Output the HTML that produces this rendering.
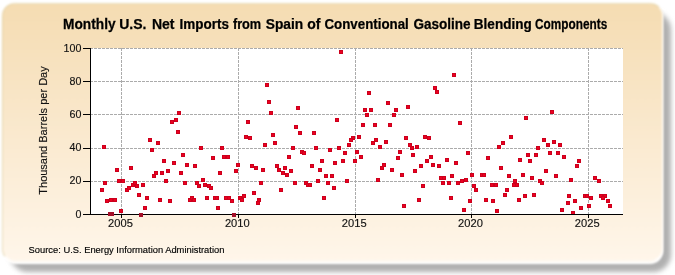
<!DOCTYPE html>
<html><head><meta charset="utf-8"><style>
html,body{margin:0;padding:0;background:#fff;width:675px;height:275px;overflow:hidden;}
.panel{position:absolute;left:2.2px;top:2.9px;width:659px;height:255.8px;border:1px solid rgba(215,200,150,0.55);border-right-color:rgba(255,255,255,0.7);border-bottom:2px solid rgba(255,255,255,0.8);background-clip:padding-box;border-radius:13px;background:linear-gradient(to bottom,#F5DCB2,#FFF6EA);filter:blur(0.9px);}
.rim{position:absolute;left:2px;top:3px;width:660.5px;height:261px;border-radius:13px;background:#fff;filter:blur(1.2px);}
.shadow{position:absolute;left:10px;top:11.5px;width:660.5px;height:260px;border-radius:18px;background:#b0b0b0;filter:blur(2.8px);}
svg{position:absolute;left:0;top:0;will-change:transform;}
text{font-family:"Liberation Sans",sans-serif;fill:#111;}
.t{font-size:11.5px;stroke:#111;stroke-width:0.15px;}
.yt{font-size:11px;stroke:#111;stroke-width:0.15px;}
.ttl{font-size:14px;font-weight:bold;fill:#000;stroke:#000;stroke-width:0.25px;}
.src{font-size:9.35px;fill:#000;stroke:#000;stroke-width:0.15px;}
</style></head><body>
<div class="shadow"></div><div class="rim"></div><div class="panel"></div>
<svg shape-rendering="crispEdges" width="675" height="275" viewBox="0 0 675 275">
<rect x="90" y="48" width="533" height="166" fill="#fff"/>
<line x1="90" y1="181.5" x2="623" y2="181.5" stroke="#ababab" stroke-width="1" stroke-dasharray="3,1"/>
<line x1="90" y1="148.5" x2="623" y2="148.5" stroke="#ababab" stroke-width="1" stroke-dasharray="3,1"/>
<line x1="90" y1="114.5" x2="623" y2="114.5" stroke="#ababab" stroke-width="1" stroke-dasharray="3,1"/>
<line x1="90" y1="81.5" x2="623" y2="81.5" stroke="#ababab" stroke-width="1" stroke-dasharray="3,1"/>
<line x1="90" y1="48.5" x2="623" y2="48.5" stroke="#ababab" stroke-width="1" stroke-dasharray="3,1"/>
<line x1="121.5" y1="48" x2="121.5" y2="214" stroke="#ababab" stroke-width="1" stroke-dasharray="3,1"/>
<line x1="238.5" y1="48" x2="238.5" y2="214" stroke="#ababab" stroke-width="1" stroke-dasharray="3,1"/>
<line x1="355.5" y1="48" x2="355.5" y2="214" stroke="#ababab" stroke-width="1" stroke-dasharray="3,1"/>
<line x1="471.5" y1="48" x2="471.5" y2="214" stroke="#ababab" stroke-width="1" stroke-dasharray="3,1"/>
<line x1="588.5" y1="48" x2="588.5" y2="214" stroke="#ababab" stroke-width="1" stroke-dasharray="3,1"/>
<rect x="148" y="138" width="4" height="4" fill="#cc001c"/><rect x="149" y="139" width="2" height="2" fill="#ec0020"/>
<rect x="156" y="141" width="4" height="4" fill="#cc001c"/><rect x="157" y="142" width="2" height="2" fill="#ec0020"/>
<rect x="102" y="145" width="4" height="4" fill="#cc001c"/><rect x="103" y="146" width="2" height="2" fill="#ec0020"/>
<rect x="150" y="148" width="4" height="4" fill="#cc001c"/><rect x="151" y="149" width="2" height="2" fill="#ec0020"/>
<rect x="162" y="159" width="4" height="4" fill="#cc001c"/><rect x="163" y="160" width="2" height="2" fill="#ec0020"/>
<rect x="129" y="166" width="4" height="4" fill="#cc001c"/><rect x="130" y="167" width="2" height="2" fill="#ec0020"/>
<rect x="115" y="168" width="4" height="4" fill="#cc001c"/><rect x="116" y="169" width="2" height="2" fill="#ec0020"/>
<rect x="166" y="169" width="4" height="4" fill="#cc001c"/><rect x="167" y="170" width="2" height="2" fill="#ec0020"/>
<rect x="154" y="171" width="4" height="4" fill="#cc001c"/><rect x="155" y="172" width="2" height="2" fill="#ec0020"/>
<rect x="160" y="171" width="4" height="4" fill="#cc001c"/><rect x="161" y="172" width="2" height="2" fill="#ec0020"/>
<rect x="152" y="174" width="4" height="4" fill="#cc001c"/><rect x="153" y="175" width="2" height="2" fill="#ec0020"/>
<rect x="103" y="181" width="4" height="4" fill="#cc001c"/><rect x="104" y="182" width="2" height="2" fill="#ec0020"/>
<rect x="100" y="188" width="4" height="4" fill="#cc001c"/><rect x="101" y="189" width="2" height="2" fill="#ec0020"/>
<rect x="105" y="199" width="4" height="4" fill="#cc001c"/><rect x="106" y="200" width="2" height="2" fill="#ec0020"/>
<rect x="109" y="198" width="4" height="4" fill="#cc001c"/><rect x="110" y="199" width="2" height="2" fill="#ec0020"/>
<rect x="113" y="198" width="4" height="4" fill="#cc001c"/><rect x="114" y="199" width="2" height="2" fill="#ec0020"/>
<rect x="117" y="179" width="4" height="4" fill="#cc001c"/><rect x="118" y="180" width="2" height="2" fill="#ec0020"/>
<rect x="121" y="179" width="4" height="4" fill="#cc001c"/><rect x="122" y="180" width="2" height="2" fill="#ec0020"/>
<rect x="119" y="209" width="4" height="4" fill="#cc001c"/><rect x="120" y="210" width="2" height="2" fill="#ec0020"/>
<rect x="125" y="188" width="4" height="4" fill="#cc001c"/><rect x="126" y="189" width="2" height="2" fill="#ec0020"/>
<rect x="127" y="186" width="4" height="4" fill="#cc001c"/><rect x="128" y="187" width="2" height="2" fill="#ec0020"/>
<rect x="131" y="183" width="4" height="4" fill="#cc001c"/><rect x="132" y="184" width="2" height="2" fill="#ec0020"/>
<rect x="133" y="181" width="4" height="4" fill="#cc001c"/><rect x="134" y="182" width="2" height="2" fill="#ec0020"/>
<rect x="135" y="184" width="4" height="4" fill="#cc001c"/><rect x="136" y="185" width="2" height="2" fill="#ec0020"/>
<rect x="137" y="193" width="4" height="4" fill="#cc001c"/><rect x="138" y="194" width="2" height="2" fill="#ec0020"/>
<rect x="141" y="183" width="4" height="4" fill="#cc001c"/><rect x="142" y="184" width="2" height="2" fill="#ec0020"/>
<rect x="143" y="206" width="4" height="4" fill="#cc001c"/><rect x="144" y="207" width="2" height="2" fill="#ec0020"/>
<rect x="145" y="196" width="4" height="4" fill="#cc001c"/><rect x="146" y="197" width="2" height="2" fill="#ec0020"/>
<rect x="158" y="198" width="4" height="4" fill="#cc001c"/><rect x="159" y="199" width="2" height="2" fill="#ec0020"/>
<rect x="164" y="179" width="4" height="4" fill="#cc001c"/><rect x="165" y="180" width="2" height="2" fill="#ec0020"/>
<rect x="177" y="111" width="4" height="4" fill="#cc001c"/><rect x="178" y="112" width="2" height="2" fill="#ec0020"/>
<rect x="174" y="118" width="4" height="4" fill="#cc001c"/><rect x="175" y="119" width="2" height="2" fill="#ec0020"/>
<rect x="170" y="120" width="4" height="4" fill="#cc001c"/><rect x="171" y="121" width="2" height="2" fill="#ec0020"/>
<rect x="176" y="130" width="4" height="4" fill="#cc001c"/><rect x="177" y="131" width="2" height="2" fill="#ec0020"/>
<rect x="199" y="146" width="4" height="4" fill="#cc001c"/><rect x="200" y="147" width="2" height="2" fill="#ec0020"/>
<rect x="220" y="146" width="4" height="4" fill="#cc001c"/><rect x="221" y="147" width="2" height="2" fill="#ec0020"/>
<rect x="181" y="153" width="4" height="4" fill="#cc001c"/><rect x="182" y="154" width="2" height="2" fill="#ec0020"/>
<rect x="211" y="156" width="4" height="4" fill="#cc001c"/><rect x="212" y="157" width="2" height="2" fill="#ec0020"/>
<rect x="222" y="155" width="4" height="4" fill="#cc001c"/><rect x="223" y="156" width="2" height="2" fill="#ec0020"/>
<rect x="226" y="155" width="4" height="4" fill="#cc001c"/><rect x="227" y="156" width="2" height="2" fill="#ec0020"/>
<rect x="172" y="161" width="4" height="4" fill="#cc001c"/><rect x="173" y="162" width="2" height="2" fill="#ec0020"/>
<rect x="185" y="163" width="4" height="4" fill="#cc001c"/><rect x="186" y="164" width="2" height="2" fill="#ec0020"/>
<rect x="193" y="164" width="4" height="4" fill="#cc001c"/><rect x="194" y="165" width="2" height="2" fill="#ec0020"/>
<rect x="179" y="171" width="4" height="4" fill="#cc001c"/><rect x="180" y="172" width="2" height="2" fill="#ec0020"/>
<rect x="218" y="171" width="4" height="4" fill="#cc001c"/><rect x="219" y="172" width="2" height="2" fill="#ec0020"/>
<rect x="183" y="181" width="4" height="4" fill="#cc001c"/><rect x="184" y="182" width="2" height="2" fill="#ec0020"/>
<rect x="195" y="181" width="4" height="4" fill="#cc001c"/><rect x="196" y="182" width="2" height="2" fill="#ec0020"/>
<rect x="197" y="184" width="4" height="4" fill="#cc001c"/><rect x="198" y="185" width="2" height="2" fill="#ec0020"/>
<rect x="201" y="178" width="4" height="4" fill="#cc001c"/><rect x="202" y="179" width="2" height="2" fill="#ec0020"/>
<rect x="203" y="183" width="4" height="4" fill="#cc001c"/><rect x="204" y="184" width="2" height="2" fill="#ec0020"/>
<rect x="207" y="184" width="4" height="4" fill="#cc001c"/><rect x="208" y="185" width="2" height="2" fill="#ec0020"/>
<rect x="209" y="186" width="4" height="4" fill="#cc001c"/><rect x="210" y="187" width="2" height="2" fill="#ec0020"/>
<rect x="168" y="199" width="4" height="4" fill="#cc001c"/><rect x="169" y="200" width="2" height="2" fill="#ec0020"/>
<rect x="188" y="198" width="4" height="4" fill="#cc001c"/><rect x="189" y="199" width="2" height="2" fill="#ec0020"/>
<rect x="190" y="196" width="4" height="4" fill="#cc001c"/><rect x="191" y="197" width="2" height="2" fill="#ec0020"/>
<rect x="192" y="198" width="4" height="4" fill="#cc001c"/><rect x="193" y="199" width="2" height="2" fill="#ec0020"/>
<rect x="205" y="196" width="4" height="4" fill="#cc001c"/><rect x="206" y="197" width="2" height="2" fill="#ec0020"/>
<rect x="213" y="196" width="4" height="4" fill="#cc001c"/><rect x="214" y="197" width="2" height="2" fill="#ec0020"/>
<rect x="215" y="196" width="4" height="4" fill="#cc001c"/><rect x="216" y="197" width="2" height="2" fill="#ec0020"/>
<rect x="216" y="206" width="4" height="4" fill="#cc001c"/><rect x="217" y="207" width="2" height="2" fill="#ec0020"/>
<rect x="265" y="83" width="4" height="4" fill="#cc001c"/><rect x="266" y="84" width="2" height="2" fill="#ec0020"/>
<rect x="267" y="100" width="4" height="4" fill="#cc001c"/><rect x="268" y="101" width="2" height="2" fill="#ec0020"/>
<rect x="296" y="106" width="4" height="4" fill="#cc001c"/><rect x="297" y="107" width="2" height="2" fill="#ec0020"/>
<rect x="269" y="111" width="4" height="4" fill="#cc001c"/><rect x="270" y="112" width="2" height="2" fill="#ec0020"/>
<rect x="246" y="120" width="4" height="4" fill="#cc001c"/><rect x="247" y="121" width="2" height="2" fill="#ec0020"/>
<rect x="294" y="125" width="4" height="4" fill="#cc001c"/><rect x="295" y="126" width="2" height="2" fill="#ec0020"/>
<rect x="244" y="135" width="4" height="4" fill="#cc001c"/><rect x="245" y="136" width="2" height="2" fill="#ec0020"/>
<rect x="248" y="136" width="4" height="4" fill="#cc001c"/><rect x="249" y="137" width="2" height="2" fill="#ec0020"/>
<rect x="271" y="133" width="4" height="4" fill="#cc001c"/><rect x="272" y="134" width="2" height="2" fill="#ec0020"/>
<rect x="273" y="141" width="4" height="4" fill="#cc001c"/><rect x="274" y="142" width="2" height="2" fill="#ec0020"/>
<rect x="263" y="143" width="4" height="4" fill="#cc001c"/><rect x="264" y="144" width="2" height="2" fill="#ec0020"/>
<rect x="291" y="146" width="4" height="4" fill="#cc001c"/><rect x="292" y="147" width="2" height="2" fill="#ec0020"/>
<rect x="287" y="155" width="4" height="4" fill="#cc001c"/><rect x="288" y="156" width="2" height="2" fill="#ec0020"/>
<rect x="236" y="163" width="4" height="4" fill="#cc001c"/><rect x="237" y="164" width="2" height="2" fill="#ec0020"/>
<rect x="234" y="169" width="4" height="4" fill="#cc001c"/><rect x="235" y="170" width="2" height="2" fill="#ec0020"/>
<rect x="250" y="164" width="4" height="4" fill="#cc001c"/><rect x="251" y="165" width="2" height="2" fill="#ec0020"/>
<rect x="254" y="166" width="4" height="4" fill="#cc001c"/><rect x="255" y="167" width="2" height="2" fill="#ec0020"/>
<rect x="261" y="168" width="4" height="4" fill="#cc001c"/><rect x="262" y="169" width="2" height="2" fill="#ec0020"/>
<rect x="275" y="164" width="4" height="4" fill="#cc001c"/><rect x="276" y="165" width="2" height="2" fill="#ec0020"/>
<rect x="277" y="168" width="4" height="4" fill="#cc001c"/><rect x="278" y="169" width="2" height="2" fill="#ec0020"/>
<rect x="283" y="166" width="4" height="4" fill="#cc001c"/><rect x="284" y="167" width="2" height="2" fill="#ec0020"/>
<rect x="281" y="171" width="4" height="4" fill="#cc001c"/><rect x="282" y="172" width="2" height="2" fill="#ec0020"/>
<rect x="285" y="173" width="4" height="4" fill="#cc001c"/><rect x="286" y="174" width="2" height="2" fill="#ec0020"/>
<rect x="289" y="169" width="4" height="4" fill="#cc001c"/><rect x="290" y="170" width="2" height="2" fill="#ec0020"/>
<rect x="259" y="181" width="4" height="4" fill="#cc001c"/><rect x="260" y="182" width="2" height="2" fill="#ec0020"/>
<rect x="293" y="181" width="4" height="4" fill="#cc001c"/><rect x="294" y="182" width="2" height="2" fill="#ec0020"/>
<rect x="279" y="188" width="4" height="4" fill="#cc001c"/><rect x="280" y="189" width="2" height="2" fill="#ec0020"/>
<rect x="252" y="191" width="4" height="4" fill="#cc001c"/><rect x="253" y="192" width="2" height="2" fill="#ec0020"/>
<rect x="224" y="196" width="4" height="4" fill="#cc001c"/><rect x="225" y="197" width="2" height="2" fill="#ec0020"/>
<rect x="227" y="196" width="4" height="4" fill="#cc001c"/><rect x="228" y="197" width="2" height="2" fill="#ec0020"/>
<rect x="230" y="199" width="4" height="4" fill="#cc001c"/><rect x="231" y="200" width="2" height="2" fill="#ec0020"/>
<rect x="238" y="196" width="4" height="4" fill="#cc001c"/><rect x="239" y="197" width="2" height="2" fill="#ec0020"/>
<rect x="240" y="198" width="4" height="4" fill="#cc001c"/><rect x="241" y="199" width="2" height="2" fill="#ec0020"/>
<rect x="242" y="194" width="4" height="4" fill="#cc001c"/><rect x="243" y="195" width="2" height="2" fill="#ec0020"/>
<rect x="257" y="198" width="4" height="4" fill="#cc001c"/><rect x="258" y="199" width="2" height="2" fill="#ec0020"/>
<rect x="256" y="201" width="4" height="4" fill="#cc001c"/><rect x="257" y="202" width="2" height="2" fill="#ec0020"/>
<rect x="339" y="50" width="4" height="4" fill="#cc001c"/><rect x="340" y="51" width="2" height="2" fill="#ec0020"/>
<rect x="367" y="91" width="4" height="4" fill="#cc001c"/><rect x="368" y="92" width="2" height="2" fill="#ec0020"/>
<rect x="363" y="108" width="4" height="4" fill="#cc001c"/><rect x="364" y="109" width="2" height="2" fill="#ec0020"/>
<rect x="369" y="108" width="4" height="4" fill="#cc001c"/><rect x="370" y="109" width="2" height="2" fill="#ec0020"/>
<rect x="365" y="113" width="4" height="4" fill="#cc001c"/><rect x="366" y="114" width="2" height="2" fill="#ec0020"/>
<rect x="335" y="118" width="4" height="4" fill="#cc001c"/><rect x="336" y="119" width="2" height="2" fill="#ec0020"/>
<rect x="361" y="123" width="4" height="4" fill="#cc001c"/><rect x="362" y="124" width="2" height="2" fill="#ec0020"/>
<rect x="373" y="123" width="4" height="4" fill="#cc001c"/><rect x="374" y="124" width="2" height="2" fill="#ec0020"/>
<rect x="298" y="131" width="4" height="4" fill="#cc001c"/><rect x="299" y="132" width="2" height="2" fill="#ec0020"/>
<rect x="312" y="131" width="4" height="4" fill="#cc001c"/><rect x="313" y="132" width="2" height="2" fill="#ec0020"/>
<rect x="351" y="136" width="4" height="4" fill="#cc001c"/><rect x="352" y="137" width="2" height="2" fill="#ec0020"/>
<rect x="349" y="138" width="4" height="4" fill="#cc001c"/><rect x="350" y="139" width="2" height="2" fill="#ec0020"/>
<rect x="357" y="135" width="4" height="4" fill="#cc001c"/><rect x="358" y="136" width="2" height="2" fill="#ec0020"/>
<rect x="347" y="143" width="4" height="4" fill="#cc001c"/><rect x="348" y="144" width="2" height="2" fill="#ec0020"/>
<rect x="374" y="138" width="4" height="4" fill="#cc001c"/><rect x="375" y="139" width="2" height="2" fill="#ec0020"/>
<rect x="371" y="141" width="4" height="4" fill="#cc001c"/><rect x="372" y="142" width="2" height="2" fill="#ec0020"/>
<rect x="314" y="146" width="4" height="4" fill="#cc001c"/><rect x="315" y="147" width="2" height="2" fill="#ec0020"/>
<rect x="328" y="148" width="4" height="4" fill="#cc001c"/><rect x="329" y="149" width="2" height="2" fill="#ec0020"/>
<rect x="337" y="146" width="4" height="4" fill="#cc001c"/><rect x="338" y="147" width="2" height="2" fill="#ec0020"/>
<rect x="300" y="150" width="4" height="4" fill="#cc001c"/><rect x="301" y="151" width="2" height="2" fill="#ec0020"/>
<rect x="302" y="151" width="4" height="4" fill="#cc001c"/><rect x="303" y="152" width="2" height="2" fill="#ec0020"/>
<rect x="343" y="151" width="4" height="4" fill="#cc001c"/><rect x="344" y="152" width="2" height="2" fill="#ec0020"/>
<rect x="355" y="150" width="4" height="4" fill="#cc001c"/><rect x="356" y="151" width="2" height="2" fill="#ec0020"/>
<rect x="359" y="155" width="4" height="4" fill="#cc001c"/><rect x="360" y="156" width="2" height="2" fill="#ec0020"/>
<rect x="320" y="159" width="4" height="4" fill="#cc001c"/><rect x="321" y="160" width="2" height="2" fill="#ec0020"/>
<rect x="333" y="161" width="4" height="4" fill="#cc001c"/><rect x="334" y="162" width="2" height="2" fill="#ec0020"/>
<rect x="341" y="159" width="4" height="4" fill="#cc001c"/><rect x="342" y="160" width="2" height="2" fill="#ec0020"/>
<rect x="353" y="159" width="4" height="4" fill="#cc001c"/><rect x="354" y="160" width="2" height="2" fill="#ec0020"/>
<rect x="310" y="164" width="4" height="4" fill="#cc001c"/><rect x="311" y="165" width="2" height="2" fill="#ec0020"/>
<rect x="318" y="168" width="4" height="4" fill="#cc001c"/><rect x="319" y="169" width="2" height="2" fill="#ec0020"/>
<rect x="324" y="174" width="4" height="4" fill="#cc001c"/><rect x="325" y="175" width="2" height="2" fill="#ec0020"/>
<rect x="330" y="174" width="4" height="4" fill="#cc001c"/><rect x="331" y="175" width="2" height="2" fill="#ec0020"/>
<rect x="304" y="181" width="4" height="4" fill="#cc001c"/><rect x="305" y="182" width="2" height="2" fill="#ec0020"/>
<rect x="306" y="183" width="4" height="4" fill="#cc001c"/><rect x="307" y="184" width="2" height="2" fill="#ec0020"/>
<rect x="308" y="183" width="4" height="4" fill="#cc001c"/><rect x="309" y="184" width="2" height="2" fill="#ec0020"/>
<rect x="316" y="179" width="4" height="4" fill="#cc001c"/><rect x="317" y="180" width="2" height="2" fill="#ec0020"/>
<rect x="326" y="181" width="4" height="4" fill="#cc001c"/><rect x="327" y="182" width="2" height="2" fill="#ec0020"/>
<rect x="345" y="179" width="4" height="4" fill="#cc001c"/><rect x="346" y="180" width="2" height="2" fill="#ec0020"/>
<rect x="332" y="186" width="4" height="4" fill="#cc001c"/><rect x="333" y="187" width="2" height="2" fill="#ec0020"/>
<rect x="322" y="196" width="4" height="4" fill="#cc001c"/><rect x="323" y="197" width="2" height="2" fill="#ec0020"/>
<rect x="433" y="86" width="4" height="4" fill="#cc001c"/><rect x="434" y="87" width="2" height="2" fill="#ec0020"/>
<rect x="435" y="90" width="4" height="4" fill="#cc001c"/><rect x="436" y="91" width="2" height="2" fill="#ec0020"/>
<rect x="386" y="101" width="4" height="4" fill="#cc001c"/><rect x="387" y="102" width="2" height="2" fill="#ec0020"/>
<rect x="406" y="105" width="4" height="4" fill="#cc001c"/><rect x="407" y="106" width="2" height="2" fill="#ec0020"/>
<rect x="394" y="108" width="4" height="4" fill="#cc001c"/><rect x="395" y="109" width="2" height="2" fill="#ec0020"/>
<rect x="392" y="113" width="4" height="4" fill="#cc001c"/><rect x="393" y="114" width="2" height="2" fill="#ec0020"/>
<rect x="388" y="123" width="4" height="4" fill="#cc001c"/><rect x="389" y="124" width="2" height="2" fill="#ec0020"/>
<rect x="384" y="140" width="4" height="4" fill="#cc001c"/><rect x="385" y="141" width="2" height="2" fill="#ec0020"/>
<rect x="378" y="145" width="4" height="4" fill="#cc001c"/><rect x="379" y="146" width="2" height="2" fill="#ec0020"/>
<rect x="404" y="136" width="4" height="4" fill="#cc001c"/><rect x="405" y="137" width="2" height="2" fill="#ec0020"/>
<rect x="423" y="135" width="4" height="4" fill="#cc001c"/><rect x="424" y="136" width="2" height="2" fill="#ec0020"/>
<rect x="427" y="136" width="4" height="4" fill="#cc001c"/><rect x="428" y="137" width="2" height="2" fill="#ec0020"/>
<rect x="408" y="143" width="4" height="4" fill="#cc001c"/><rect x="409" y="144" width="2" height="2" fill="#ec0020"/>
<rect x="410" y="146" width="4" height="4" fill="#cc001c"/><rect x="411" y="147" width="2" height="2" fill="#ec0020"/>
<rect x="415" y="145" width="4" height="4" fill="#cc001c"/><rect x="416" y="146" width="2" height="2" fill="#ec0020"/>
<rect x="398" y="150" width="4" height="4" fill="#cc001c"/><rect x="399" y="151" width="2" height="2" fill="#ec0020"/>
<rect x="411" y="153" width="4" height="4" fill="#cc001c"/><rect x="412" y="154" width="2" height="2" fill="#ec0020"/>
<rect x="396" y="156" width="4" height="4" fill="#cc001c"/><rect x="397" y="157" width="2" height="2" fill="#ec0020"/>
<rect x="429" y="155" width="4" height="4" fill="#cc001c"/><rect x="430" y="156" width="2" height="2" fill="#ec0020"/>
<rect x="425" y="159" width="4" height="4" fill="#cc001c"/><rect x="426" y="160" width="2" height="2" fill="#ec0020"/>
<rect x="382" y="163" width="4" height="4" fill="#cc001c"/><rect x="383" y="164" width="2" height="2" fill="#ec0020"/>
<rect x="380" y="166" width="4" height="4" fill="#cc001c"/><rect x="381" y="167" width="2" height="2" fill="#ec0020"/>
<rect x="390" y="168" width="4" height="4" fill="#cc001c"/><rect x="391" y="169" width="2" height="2" fill="#ec0020"/>
<rect x="419" y="164" width="4" height="4" fill="#cc001c"/><rect x="420" y="165" width="2" height="2" fill="#ec0020"/>
<rect x="431" y="163" width="4" height="4" fill="#cc001c"/><rect x="432" y="164" width="2" height="2" fill="#ec0020"/>
<rect x="437" y="164" width="4" height="4" fill="#cc001c"/><rect x="438" y="165" width="2" height="2" fill="#ec0020"/>
<rect x="400" y="173" width="4" height="4" fill="#cc001c"/><rect x="401" y="174" width="2" height="2" fill="#ec0020"/>
<rect x="413" y="169" width="4" height="4" fill="#cc001c"/><rect x="414" y="170" width="2" height="2" fill="#ec0020"/>
<rect x="376" y="178" width="4" height="4" fill="#cc001c"/><rect x="377" y="179" width="2" height="2" fill="#ec0020"/>
<rect x="439" y="176" width="4" height="4" fill="#cc001c"/><rect x="440" y="177" width="2" height="2" fill="#ec0020"/>
<rect x="442" y="176" width="4" height="4" fill="#cc001c"/><rect x="443" y="177" width="2" height="2" fill="#ec0020"/>
<rect x="441" y="181" width="4" height="4" fill="#cc001c"/><rect x="442" y="182" width="2" height="2" fill="#ec0020"/>
<rect x="421" y="184" width="4" height="4" fill="#cc001c"/><rect x="422" y="185" width="2" height="2" fill="#ec0020"/>
<rect x="417" y="198" width="4" height="4" fill="#cc001c"/><rect x="418" y="199" width="2" height="2" fill="#ec0020"/>
<rect x="402" y="204" width="4" height="4" fill="#cc001c"/><rect x="403" y="205" width="2" height="2" fill="#ec0020"/>
<rect x="452" y="73" width="4" height="4" fill="#cc001c"/><rect x="453" y="74" width="2" height="2" fill="#ec0020"/>
<rect x="458" y="121" width="4" height="4" fill="#cc001c"/><rect x="459" y="122" width="2" height="2" fill="#ec0020"/>
<rect x="509" y="135" width="4" height="4" fill="#cc001c"/><rect x="510" y="136" width="2" height="2" fill="#ec0020"/>
<rect x="501" y="141" width="4" height="4" fill="#cc001c"/><rect x="502" y="142" width="2" height="2" fill="#ec0020"/>
<rect x="497" y="145" width="4" height="4" fill="#cc001c"/><rect x="498" y="146" width="2" height="2" fill="#ec0020"/>
<rect x="466" y="151" width="4" height="4" fill="#cc001c"/><rect x="467" y="152" width="2" height="2" fill="#ec0020"/>
<rect x="486" y="156" width="4" height="4" fill="#cc001c"/><rect x="487" y="157" width="2" height="2" fill="#ec0020"/>
<rect x="445" y="158" width="4" height="4" fill="#cc001c"/><rect x="446" y="159" width="2" height="2" fill="#ec0020"/>
<rect x="454" y="161" width="4" height="4" fill="#cc001c"/><rect x="455" y="162" width="2" height="2" fill="#ec0020"/>
<rect x="518" y="158" width="4" height="4" fill="#cc001c"/><rect x="519" y="159" width="2" height="2" fill="#ec0020"/>
<rect x="499" y="166" width="4" height="4" fill="#cc001c"/><rect x="500" y="167" width="2" height="2" fill="#ec0020"/>
<rect x="450" y="174" width="4" height="4" fill="#cc001c"/><rect x="451" y="175" width="2" height="2" fill="#ec0020"/>
<rect x="447" y="181" width="4" height="4" fill="#cc001c"/><rect x="448" y="182" width="2" height="2" fill="#ec0020"/>
<rect x="456" y="181" width="4" height="4" fill="#cc001c"/><rect x="457" y="182" width="2" height="2" fill="#ec0020"/>
<rect x="460" y="179" width="4" height="4" fill="#cc001c"/><rect x="461" y="180" width="2" height="2" fill="#ec0020"/>
<rect x="464" y="178" width="4" height="4" fill="#cc001c"/><rect x="465" y="179" width="2" height="2" fill="#ec0020"/>
<rect x="470" y="173" width="4" height="4" fill="#cc001c"/><rect x="471" y="174" width="2" height="2" fill="#ec0020"/>
<rect x="480" y="173" width="4" height="4" fill="#cc001c"/><rect x="481" y="174" width="2" height="2" fill="#ec0020"/>
<rect x="482" y="173" width="4" height="4" fill="#cc001c"/><rect x="483" y="174" width="2" height="2" fill="#ec0020"/>
<rect x="507" y="174" width="4" height="4" fill="#cc001c"/><rect x="508" y="175" width="2" height="2" fill="#ec0020"/>
<rect x="490" y="183" width="4" height="4" fill="#cc001c"/><rect x="491" y="184" width="2" height="2" fill="#ec0020"/>
<rect x="494" y="183" width="4" height="4" fill="#cc001c"/><rect x="495" y="184" width="2" height="2" fill="#ec0020"/>
<rect x="472" y="184" width="4" height="4" fill="#cc001c"/><rect x="473" y="185" width="2" height="2" fill="#ec0020"/>
<rect x="474" y="188" width="4" height="4" fill="#cc001c"/><rect x="475" y="189" width="2" height="2" fill="#ec0020"/>
<rect x="505" y="188" width="4" height="4" fill="#cc001c"/><rect x="506" y="189" width="2" height="2" fill="#ec0020"/>
<rect x="513" y="179" width="4" height="4" fill="#cc001c"/><rect x="514" y="180" width="2" height="2" fill="#ec0020"/>
<rect x="512" y="183" width="4" height="4" fill="#cc001c"/><rect x="513" y="184" width="2" height="2" fill="#ec0020"/>
<rect x="515" y="183" width="4" height="4" fill="#cc001c"/><rect x="516" y="184" width="2" height="2" fill="#ec0020"/>
<rect x="449" y="196" width="4" height="4" fill="#cc001c"/><rect x="450" y="197" width="2" height="2" fill="#ec0020"/>
<rect x="468" y="199" width="4" height="4" fill="#cc001c"/><rect x="469" y="200" width="2" height="2" fill="#ec0020"/>
<rect x="484" y="198" width="4" height="4" fill="#cc001c"/><rect x="485" y="199" width="2" height="2" fill="#ec0020"/>
<rect x="491" y="199" width="4" height="4" fill="#cc001c"/><rect x="492" y="200" width="2" height="2" fill="#ec0020"/>
<rect x="503" y="193" width="4" height="4" fill="#cc001c"/><rect x="504" y="194" width="2" height="2" fill="#ec0020"/>
<rect x="517" y="198" width="4" height="4" fill="#cc001c"/><rect x="518" y="199" width="2" height="2" fill="#ec0020"/>
<rect x="462" y="208" width="4" height="4" fill="#cc001c"/><rect x="463" y="209" width="2" height="2" fill="#ec0020"/>
<rect x="495" y="209" width="4" height="4" fill="#cc001c"/><rect x="496" y="210" width="2" height="2" fill="#ec0020"/>
<rect x="550" y="110" width="4" height="4" fill="#cc001c"/><rect x="551" y="111" width="2" height="2" fill="#ec0020"/>
<rect x="524" y="116" width="4" height="4" fill="#cc001c"/><rect x="525" y="117" width="2" height="2" fill="#ec0020"/>
<rect x="542" y="138" width="4" height="4" fill="#cc001c"/><rect x="543" y="139" width="2" height="2" fill="#ec0020"/>
<rect x="552" y="140" width="4" height="4" fill="#cc001c"/><rect x="553" y="141" width="2" height="2" fill="#ec0020"/>
<rect x="546" y="143" width="4" height="4" fill="#cc001c"/><rect x="547" y="144" width="2" height="2" fill="#ec0020"/>
<rect x="558" y="143" width="4" height="4" fill="#cc001c"/><rect x="559" y="144" width="2" height="2" fill="#ec0020"/>
<rect x="536" y="146" width="4" height="4" fill="#cc001c"/><rect x="537" y="147" width="2" height="2" fill="#ec0020"/>
<rect x="548" y="151" width="4" height="4" fill="#cc001c"/><rect x="549" y="152" width="2" height="2" fill="#ec0020"/>
<rect x="556" y="151" width="4" height="4" fill="#cc001c"/><rect x="557" y="152" width="2" height="2" fill="#ec0020"/>
<rect x="526" y="153" width="4" height="4" fill="#cc001c"/><rect x="527" y="154" width="2" height="2" fill="#ec0020"/>
<rect x="534" y="153" width="4" height="4" fill="#cc001c"/><rect x="535" y="154" width="2" height="2" fill="#ec0020"/>
<rect x="562" y="155" width="4" height="4" fill="#cc001c"/><rect x="563" y="156" width="2" height="2" fill="#ec0020"/>
<rect x="528" y="159" width="4" height="4" fill="#cc001c"/><rect x="529" y="160" width="2" height="2" fill="#ec0020"/>
<rect x="577" y="159" width="4" height="4" fill="#cc001c"/><rect x="578" y="160" width="2" height="2" fill="#ec0020"/>
<rect x="575" y="164" width="4" height="4" fill="#cc001c"/><rect x="576" y="165" width="2" height="2" fill="#ec0020"/>
<rect x="544" y="169" width="4" height="4" fill="#cc001c"/><rect x="545" y="170" width="2" height="2" fill="#ec0020"/>
<rect x="521" y="173" width="4" height="4" fill="#cc001c"/><rect x="522" y="174" width="2" height="2" fill="#ec0020"/>
<rect x="530" y="176" width="4" height="4" fill="#cc001c"/><rect x="531" y="177" width="2" height="2" fill="#ec0020"/>
<rect x="554" y="174" width="4" height="4" fill="#cc001c"/><rect x="555" y="175" width="2" height="2" fill="#ec0020"/>
<rect x="538" y="179" width="4" height="4" fill="#cc001c"/><rect x="539" y="180" width="2" height="2" fill="#ec0020"/>
<rect x="540" y="181" width="4" height="4" fill="#cc001c"/><rect x="541" y="182" width="2" height="2" fill="#ec0020"/>
<rect x="569" y="178" width="4" height="4" fill="#cc001c"/><rect x="570" y="179" width="2" height="2" fill="#ec0020"/>
<rect x="593" y="176" width="4" height="4" fill="#cc001c"/><rect x="594" y="177" width="2" height="2" fill="#ec0020"/>
<rect x="523" y="194" width="4" height="4" fill="#cc001c"/><rect x="524" y="195" width="2" height="2" fill="#ec0020"/>
<rect x="532" y="193" width="4" height="4" fill="#cc001c"/><rect x="533" y="194" width="2" height="2" fill="#ec0020"/>
<rect x="567" y="194" width="4" height="4" fill="#cc001c"/><rect x="568" y="195" width="2" height="2" fill="#ec0020"/>
<rect x="566" y="201" width="4" height="4" fill="#cc001c"/><rect x="567" y="202" width="2" height="2" fill="#ec0020"/>
<rect x="573" y="199" width="4" height="4" fill="#cc001c"/><rect x="574" y="200" width="2" height="2" fill="#ec0020"/>
<rect x="583" y="194" width="4" height="4" fill="#cc001c"/><rect x="584" y="195" width="2" height="2" fill="#ec0020"/>
<rect x="585" y="194" width="4" height="4" fill="#cc001c"/><rect x="586" y="195" width="2" height="2" fill="#ec0020"/>
<rect x="589" y="196" width="4" height="4" fill="#cc001c"/><rect x="590" y="197" width="2" height="2" fill="#ec0020"/>
<rect x="579" y="206" width="4" height="4" fill="#cc001c"/><rect x="580" y="207" width="2" height="2" fill="#ec0020"/>
<rect x="587" y="204" width="4" height="4" fill="#cc001c"/><rect x="588" y="205" width="2" height="2" fill="#ec0020"/>
<rect x="560" y="208" width="4" height="4" fill="#cc001c"/><rect x="561" y="209" width="2" height="2" fill="#ec0020"/>
<rect x="571" y="211" width="4" height="4" fill="#cc001c"/><rect x="572" y="212" width="2" height="2" fill="#ec0020"/>
<rect x="597" y="179" width="4" height="4" fill="#cc001c"/><rect x="598" y="180" width="2" height="2" fill="#ec0020"/>
<rect x="599" y="194" width="4" height="4" fill="#cc001c"/><rect x="600" y="195" width="2" height="2" fill="#ec0020"/>
<rect x="603" y="194" width="4" height="4" fill="#cc001c"/><rect x="604" y="195" width="2" height="2" fill="#ec0020"/>
<rect x="601" y="196" width="4" height="4" fill="#cc001c"/><rect x="602" y="197" width="2" height="2" fill="#ec0020"/>
<rect x="606" y="199" width="4" height="4" fill="#cc001c"/><rect x="607" y="200" width="2" height="2" fill="#ec0020"/>
<rect x="608" y="204" width="4" height="4" fill="#cc001c"/><rect x="609" y="205" width="2" height="2" fill="#ec0020"/>
<line x1="90.5" y1="48" x2="90.5" y2="214.5" stroke="#000" stroke-width="1"/>
<line x1="83" y1="214.5" x2="623" y2="214.5" stroke="#000" stroke-width="1"/>
<line x1="83" y1="181.5" x2="90" y2="181.5" stroke="#000" stroke-width="1"/>
<line x1="83" y1="148.5" x2="90" y2="148.5" stroke="#000" stroke-width="1"/>
<line x1="83" y1="114.5" x2="90" y2="114.5" stroke="#000" stroke-width="1"/>
<line x1="83" y1="81.5" x2="90" y2="81.5" stroke="#000" stroke-width="1"/>
<line x1="83" y1="48.5" x2="90" y2="48.5" stroke="#000" stroke-width="1"/>
<line x1="121.5" y1="214" x2="121.5" y2="218" stroke="#000" stroke-width="1"/>
<line x1="238.5" y1="214" x2="238.5" y2="218" stroke="#000" stroke-width="1"/>
<line x1="355.5" y1="214" x2="355.5" y2="218" stroke="#000" stroke-width="1"/>
<line x1="471.5" y1="214" x2="471.5" y2="218" stroke="#000" stroke-width="1"/>
<line x1="588.5" y1="214" x2="588.5" y2="218" stroke="#000" stroke-width="1"/>
<rect x="108" y="212" width="4" height="4" fill="#a4102a"/>
<rect x="110" y="212" width="4" height="4" fill="#a4102a"/>
<rect x="139" y="213" width="4" height="4" fill="#a4102a"/>
<rect x="232" y="213" width="4" height="4" fill="#a4102a"/>
<text transform="translate(81.4,217.5) scale(0.93,1)" text-anchor="end" class="t">0</text>
<text transform="translate(81.4,184.3) scale(0.93,1)" text-anchor="end" class="t">20</text>
<text transform="translate(81.4,151.1) scale(0.93,1)" text-anchor="end" class="t">40</text>
<text transform="translate(81.4,117.9) scale(0.93,1)" text-anchor="end" class="t">60</text>
<text transform="translate(81.4,84.7) scale(0.93,1)" text-anchor="end" class="t">80</text>
<text transform="translate(81.4,51.5) scale(0.93,1)" text-anchor="end" class="t">100</text>
<text transform="translate(120.5,227.3) scale(0.97,1)" text-anchor="middle" class="t">2005</text>
<text transform="translate(237.3,227.3) scale(0.97,1)" text-anchor="middle" class="t">2010</text>
<text transform="translate(354.2,227.3) scale(0.97,1)" text-anchor="middle" class="t">2015</text>
<text transform="translate(470.5,227.3) scale(0.97,1)" text-anchor="middle" class="t">2020</text>
<text transform="translate(587.2,227.3) scale(0.97,1)" text-anchor="middle" class="t">2025</text>
<text transform="translate(63.02,29) scale(0.981,1)" class="ttl">Monthly</text>
<text transform="translate(119.20,29) scale(1.000,1)" class="ttl">U.S.</text>
<text transform="translate(151.90,29) scale(1.000,1)" class="ttl">Net</text>
<text transform="translate(179.54,29) scale(0.963,1)" class="ttl">Imports</text>
<text transform="translate(232.90,29) scale(0.910,1)" class="ttl">from</text>
<text transform="translate(265.70,29) scale(0.984,1)" class="ttl">Spain</text>
<text transform="translate(307.20,29) scale(1.000,1)" class="ttl">of</text>
<text transform="translate(324.50,29) scale(0.951,1)" class="ttl">Conventional</text>
<text transform="translate(413.40,29) scale(0.969,1)" class="ttl">Gasoline</text>
<text transform="translate(473.83,29) scale(0.967,1)" class="ttl">Blending</text>
<text transform="translate(535.10,29) scale(0.844,1)" class="ttl">Components</text>
<text transform="translate(46.7,130.5) rotate(-90)" text-anchor="middle" class="yt">Thousand Barrels per Day</text>
<text x="28.6" y="252.7" class="src">Source: U.S. Energy Information Administration</text>
</svg>
</body></html>
